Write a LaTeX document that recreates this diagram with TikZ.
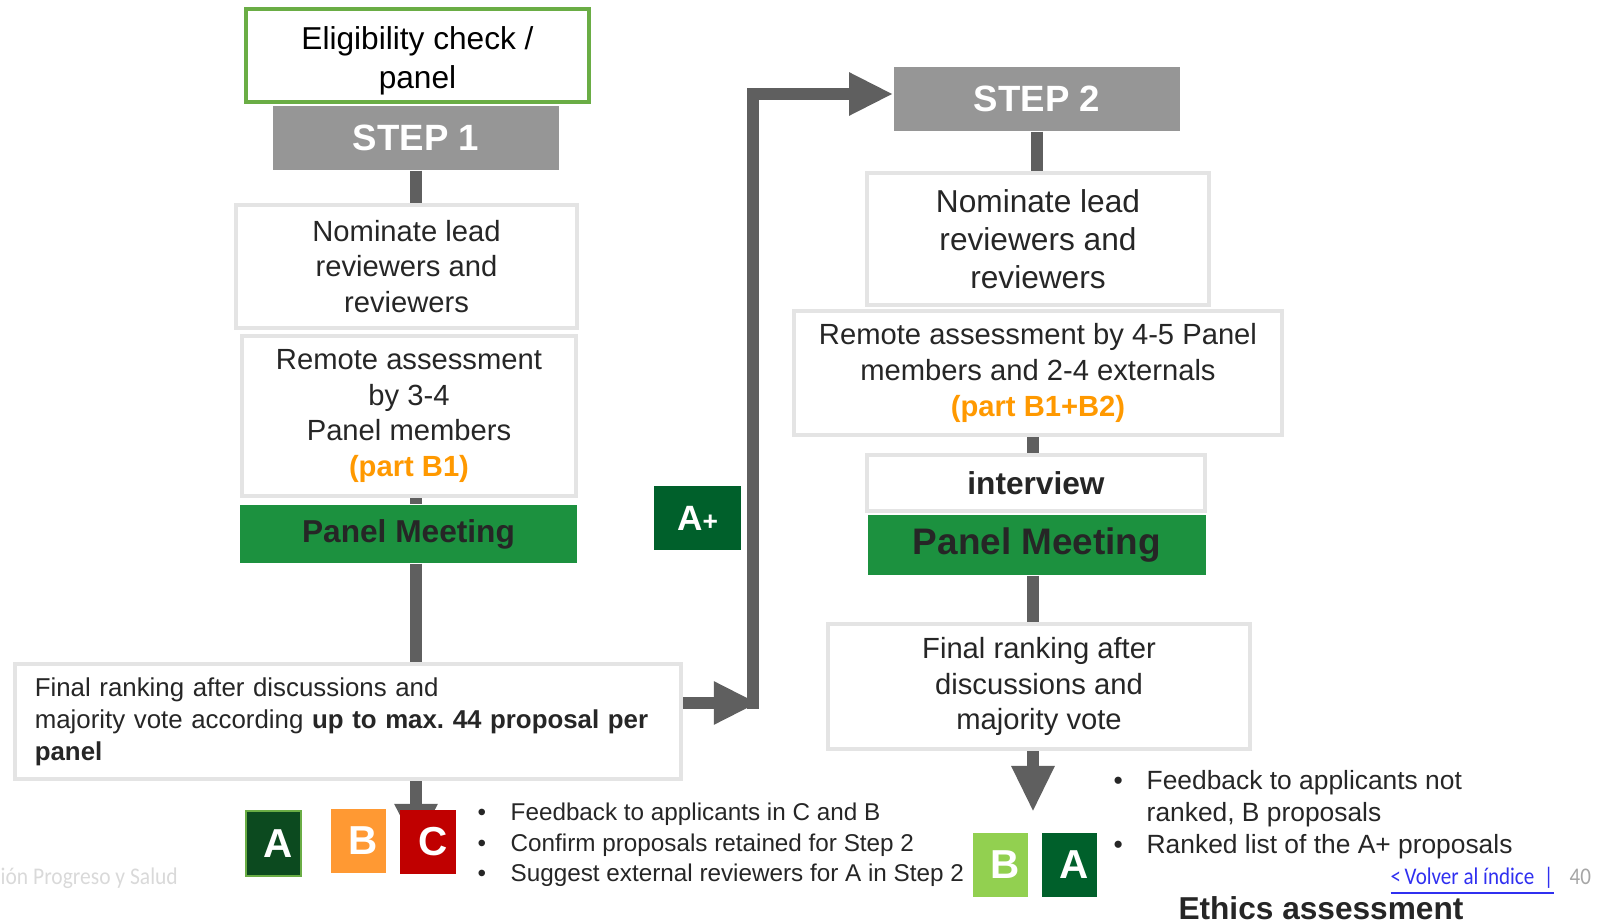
\documentclass[tikz,border=0pt]{standalone}
\usepackage{fontspec}
\setmainfont{Liberation Sans}
\newfontfamily\footfont{Carlito}
\usepackage{graphicx}
\usetikzlibrary{arrows.meta, backgrounds}
\frenchspacing
\definecolor{txtgray}{HTML}{262626}
\definecolor{stepgray}{HTML}{969696}
\definecolor{linkgray}{HTML}{5F5F5F}
\definecolor{boxline}{HTML}{E4E4E4}
\definecolor{meetgreen}{HTML}{1C913F}
\definecolor{darkA}{HTML}{00602B}
\definecolor{darkAone}{HTML}{0C4A1F}
\definecolor{lightgreen}{HTML}{92D050}
\definecolor{eligreen}{HTML}{6AAD45}
\definecolor{gradeB}{HTML}{FF9933}
\definecolor{gradeC}{HTML}{C00000}
\definecolor{partorange}{HTML}{FF9900}
\definecolor{linkblue}{HTML}{3030F0}

\begin{document}
\begin{tikzpicture}[x=0.01cm, y=-0.01cm,
    every node/.style={text=txtgray, inner sep=0pt, align=center},
    wbox/.style={draw=boxline, line width=0.04cm, fill=white},
    stepbox/.style={fill=stepgray, text=white, font=\fontsize{10.4}{12}\selectfont\bfseries,
        minimum width=2.86cm, minimum height=0.64cm},
    meetbox/.style={fill=meetgreen},
    grade/.style={text=white, font=\fontsize{11.5}{13}\selectfont\bfseries,
        minimum width=0.55cm, minimum height=0.64cm, execute at begin node=\hspace*{0.1cm}},
    conn/.style={draw=linkgray, line width=0.12cm},
    bigtip/.style={-{Triangle[length=0.44cm, width=0.40cm]}}]
    \useasboundingbox (0,0) rectangle (1602,921);

    % step 1 column
    \node[wbox, draw=eligreen, text=black, minimum width=3.43cm, minimum height=0.93cm,
        font=\fontsize{9}{11}\selectfont] (elig) at (417.5,55.5) {\rule{0pt}{0.34cm}Eligibility check /\\panel};
    \node[stepbox] (step1) at (416,138) {STEP 1};
    \node[wbox, minimum width=3.41cm, minimum height=1.23cm, font=\fontsize{8.3}{10}\selectfont]
        (nom1) at (406.5,266.5) {Nominate lead\\reviewers and\\reviewers};
    \node[wbox, minimum width=3.34cm, minimum height=1.60cm, font=\fontsize{8.3}{10.1}\selectfont]
        (rem1) at (409,416) {Remote assessment\\by 3-4\\Panel members\\\textcolor{partorange}{\bfseries(part B1)}};
    \node[meetbox, minimum width=3.37cm, minimum height=0.58cm, font=\fontsize{9}{11}\selectfont\bfseries]
        (meet1) at (408.5,534) {Panel Meeting};
    \node[wbox, minimum width=6.66cm, minimum height=1.15cm, text width=6.26cm, align=left,
        font=\fontsize{7.35}{9.1}\selectfont] (fin1) at (348,721.5)
        {Final ranking after discussions and\\majority vote according \textbf{up to max. 44 proposal per}\\\textbf{panel}};

    % step 2 column
    \node[stepbox] (step2) at (1037,99) {STEP 2};
    \node[wbox, minimum width=3.42cm, minimum height=1.32cm, font=\fontsize{9}{10.8}\selectfont]
        (nom2) at (1038,239) {Nominate lead\\reviewers and\\reviewers};
    \node[wbox, minimum width=4.88cm, minimum height=1.24cm, font=\fontsize{8.3}{10.2}\selectfont]
        (rem2) at (1038,373) {Remote assessment by 4-5 Panel\\members and 2-4 externals\\\textcolor{partorange}{\bfseries(part B1+B2)}};
    \node[wbox, minimum width=3.38cm, minimum height=0.56cm, font=\fontsize{9}{11}\selectfont\bfseries]
        (inter) at (1036,483) {interview};
    \node[meetbox, minimum width=3.38cm, minimum height=0.60cm, font=\fontsize{10.5}{12}\selectfont\bfseries]
        (meet2) at (1037,545) {Panel Meeting};
    \node[wbox, minimum width=4.22cm, minimum height=1.25cm, font=\fontsize{8.3}{10.2}\selectfont]
        (fin2) at (1039,686.5) {Final ranking after\\discussions and\\majority vote};

    \node[fill=darkA, text=white, minimum width=0.87cm, minimum height=0.64cm,
        font=\fontsize{10}{12}\selectfont\bfseries] (aplus) at (697.5,518) {A{\fontsize{7.5}{8}\selectfont+}};

    \coordinate (turn) at (753,703);
    \coordinate (tipone) at (416,848);
    \coordinate (tiptwo) at (1033,812);

    \begin{scope}[on background layer]
    \draw[conn] (step1.south) -- (step1.south |- nom1.north);
    \draw[conn] (rem1.south -| step1) -- (meet1.north -| step1);
    \draw[conn] (meet1.south -| step1) -- (fin1.north -| step1);
    \draw[conn, bigtip] (fin1.south -| tipone) -- (tipone);
    \draw[conn, bigtip] (fin1.east |- turn) -- ([xshift=0.05cm]turn);
    \draw[conn, bigtip] ([yshift=-0.06cm]turn) |- ([yshift=0.05cm]step2.west);
    \draw[conn] (step2.south) -- (step2.south |- nom2.north);
    \draw[conn] (rem2.south -| tiptwo) -- (inter.north -| tiptwo);
    \draw[conn] (meet2.south -| tiptwo) -- (fin2.north -| tiptwo);
    \draw[conn, -{Triangle[length=0.46cm, width=0.40cm]}] (fin2.south -| tiptwo) -- (tiptwo);
    \end{scope}

    % grades
    \node[grade, fill=darkAone, draw=eligreen, line width=0.02cm] (gradeA1) at (273.5,843.5) {A};
    \node[grade, fill=gradeB] (gradeB1) at (358.5,841) {B};
    \node[grade, fill=gradeC] (gradeC1) at (428,842) {C};
    \node[grade, fill=lightgreen] (gradeB2) at (1000.5,865) {B};
    \node[grade, fill=darkA] (gradeA2) at (1069.5,865) {A};

    \node[anchor=north west, align=left, font=\fontsize{6.9}{8.6}\selectfont] (notes1) at (477,799)
        {\begin{tabular}{@{}p{0.33cm}@{}l@{}}
        \textbullet & Feedback to applicants in C and B\\
        \textbullet & Confirm proposals retained for Step 2\\
        \textbullet & Suggest external reviewers for A in Step 2
        \end{tabular}};
    \node[anchor=north west, align=left, font=\fontsize{7.5}{9}\selectfont] (notes2) at (1113,767)
        {\begin{tabular}{@{}p{0.33cm}@{}l@{}}
        \textbullet & Feedback to applicants not\\
        & ranked, B proposals\\
        \textbullet & Ranked list of the A+ proposals
        \end{tabular}};

    \node[anchor=base, font=\fontsize{9}{11}\selectfont\bfseries] (ethics) at (1321,919) {Ethics assessment};
    \node[anchor=base west, text=linkblue, font=\footfont\fontsize{6.8}{8}\selectfont] (back) at (1390,884)
        {\scalebox{0.88}[1]{\underline{<\,Volver al índice\ \ |}}};
    \node[anchor=base west, text=black!35, font=\footfont\fontsize{6.8}{8}\selectfont] (page) at (1569,884)
        {\scalebox{0.88}[1]{40}};
    \node[anchor=base west, text=black!15, font=\footfont\fontsize{6.8}{8}\selectfont] (foot) at (0,884)
        {\scalebox{0.9}[1]{ión Progreso y Salud}};
\end{tikzpicture}
\end{document}
